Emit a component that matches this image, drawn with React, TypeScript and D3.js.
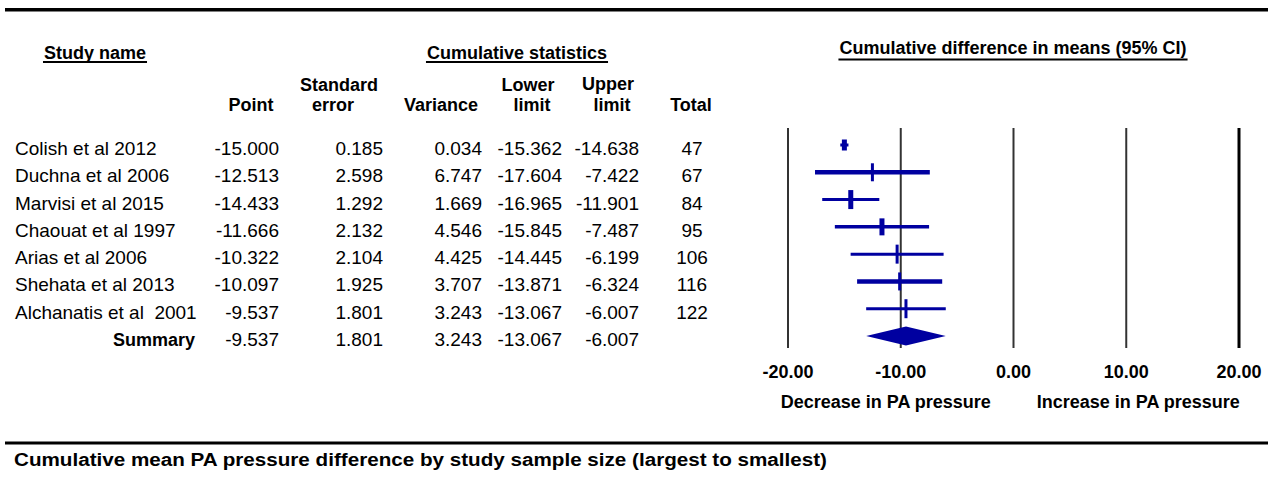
import React, { useEffect, useRef } from 'react';
import * as d3 from 'd3';

const studies = [
  'Colish et al 2012',
  'Duchna et al 2006',
  'Marvisi et al 2015',
  'Chaouat et al 1997',
  'Arias et al 2006',
  'Shehata et al 2013',
  'Alchanatis et al  2001',
];
const point = [-15.0, -12.513, -14.433, -11.666, -10.322, -10.097, -9.537];
const stdErr = [0.185, 2.598, 1.292, 2.132, 2.104, 1.925, 1.801];
const variance = [0.034, 6.747, 1.669, 4.546, 4.425, 3.707, 3.243];
const lower = [-15.362, -17.604, -16.965, -15.845, -14.445, -13.871, -13.067];
const upper = [-14.638, -7.422, -11.901, -7.487, -6.199, -6.324, -6.007];
const total = [47, 67, 84, 95, 106, 116, 122];

const summaryLabel = 'Summary';
const summaryPoint = -9.537;
const summarySE = 1.801;
const summaryVariance = 3.243;
const summaryLower = -13.067;
const summaryUpper = -6.007;

const axisTicks = [-20, -10, 0, 10, 20];

const caption = 'Cumulative mean PA pressure difference by study sample size (largest to smallest)';

// styles (per-row line weights of the forest marks)
const ciStroke = [3, 4.5, 3, 3.5, 3, 4.5, 3];
const tickStroke = [5, 3, 5, 5, 3, 3, 3];
const tickHalf = [5.5, 9, 9.5, 8.5, 9.5, 9, 9.5];

const FONT = "'Liberation Sans', Arial, Helvetica, sans-serif";
const BLUE = '#0000a0';

export default function App() {
  const ref = useRef<SVGSVGElement | null>(null);

  useEffect(() => {
    const svg = d3.select(ref.current);
    svg.selectAll('*').remove();

    const loc = d3.formatLocale({ decimal: '.', thousands: ',', grouping: [3], currency: ['', ''], minus: '-' });
    const f3 = loc.format('.3f');
    const f2 = loc.format('.2f');

    const x = d3.scaleLinear().domain([-20, 20]).range([788, 1239]);
    const rows = [...studies, summaryLabel];
    const y = d3.scalePoint<string>().domain(rows).range([145, 336]);

    // rules
    svg.append('rect').attr('x', 5).attr('y', 8).attr('width', 1263).attr('height', 3.5).attr('fill', '#000');
    svg.append('rect').attr('x', 5).attr('y', 441.5).attr('width', 1263).attr('height', 3).attr('fill', '#000');

    const text = (
      s: string,
      tx: number,
      ty: number,
      opts: { anchor?: string; weight?: string; size?: number } = {}
    ) =>
      svg
        .append('text')
        .attr('x', tx)
        .attr('y', ty)
        .attr('text-anchor', opts.anchor || 'start')
        .attr('font-family', FONT)
        .attr('font-size', opts.size || 19)
        .attr('font-weight', opts.weight || 'normal')
        .attr('fill', '#000')
        .style('white-space', 'pre')
        .text(s);

    const underlined = (s: string, cx: number, ty: number, uy: number) => {
      const t = text(s, cx, ty, { anchor: 'middle', weight: 'bold', size: 18 });
      const bb = (t.node() as SVGTextElement).getBBox();
      svg
        .append('rect')
        .attr('x', bb.x - 1)
        .attr('y', uy)
        .attr('width', bb.width + 2)
        .attr('height', 2)
        .attr('fill', '#000');
    };

    underlined('Study name', 95, 59, 61);
    underlined('Cumulative statistics', 517, 59, 61);
    underlined('Cumulative difference in means (95% CI)', 1013, 54, 58.5);

    // column headers
    const hdr = (s: string, cx: number, ty: number, size = 18) =>
      text(s, cx, ty, { anchor: 'middle', weight: 'bold', size });
    hdr('Point', 251, 111);
    hdr('Standard', 339, 91);
    hdr('error', 333, 111);
    hdr('Variance', 441, 111);
    hdr('Lower', 528, 91);
    hdr('limit', 532, 111);
    hdr('Upper', 608, 90);
    hdr('limit', 612, 111);
    hdr('Total', 691, 111);

    // table rows
    studies.forEach((s, i) => {
      const yy = (y(s) as number) + 10;
      text(s, 15, yy);
      text(f3(point[i]), 279, yy, { anchor: 'end' });
      text(f3(stdErr[i]), 383, yy, { anchor: 'end' });
      text(f3(variance[i]), 482, yy, { anchor: 'end' });
      text(f3(lower[i]), 562, yy, { anchor: 'end' });
      text(f3(upper[i]), 639, yy, { anchor: 'end' });
      text(String(total[i]), 692, yy, { anchor: 'middle' });
    });
    const sy = (y(summaryLabel) as number) + 10;
    text(summaryLabel, 195, sy, { anchor: 'end', weight: 'bold', size: 18 });
    text(f3(summaryPoint), 279, sy, { anchor: 'end' });
    text(f3(summarySE), 383, sy, { anchor: 'end' });
    text(f3(summaryVariance), 482, sy, { anchor: 'end' });
    text(f3(summaryLower), 562, sy, { anchor: 'end' });
    text(f3(summaryUpper), 639, sy, { anchor: 'end' });

    // grid / axis lines
    axisTicks.forEach((t, i) => {
      svg
        .append('line')
        .attr('x1', x(t))
        .attr('x2', x(t))
        .attr('y1', 128)
        .attr('y2', 348)
        .attr('stroke', i === axisTicks.length - 1 ? '#000' : '#333')
        .attr('stroke-width', i === axisTicks.length - 1 ? 3 : 2);
      text(f2(t), x(t), 378, { anchor: 'middle', weight: 'bold', size: 18 });
    });
    text('Decrease in PA pressure', x(-10) - 15, 408, { anchor: 'middle', weight: 'bold', size: 18 });
    text('Increase in PA pressure', x(10) + 12, 408, { anchor: 'middle', weight: 'bold', size: 18 });

    // forest marks
    studies.forEach((s, i) => {
      const yy = y(s) as number;
      svg
        .append('line')
        .attr('x1', x(lower[i]))
        .attr('x2', x(upper[i]))
        .attr('y1', yy)
        .attr('y2', yy)
        .attr('stroke', BLUE)
        .attr('stroke-width', ciStroke[i]);
      svg
        .append('line')
        .attr('x1', x(point[i]))
        .attr('x2', x(point[i]))
        .attr('y1', yy - tickHalf[i])
        .attr('y2', yy + tickHalf[i])
        .attr('stroke', BLUE)
        .attr('stroke-width', tickStroke[i]);
    });
    const dy = y(summaryLabel) as number;
    svg
      .append('polygon')
      .attr(
        'points',
        [
          [x(summaryLower), dy],
          [x(summaryPoint), dy - 9.5],
          [x(summaryUpper), dy],
          [x(summaryPoint), dy + 9.5],
        ]
          .map((p) => p.join(','))
          .join(' ')
      )
      .attr('fill', BLUE);

    // caption
    text(caption, 14, 466, { weight: 'bold', size: 18 })
      .attr('textLength', 813)
      .attr('lengthAdjust', 'spacingAndGlyphs');
  }, []);

  return (
    <svg
      ref={ref}
      width={1268}
      height={477}
      style={{ position: 'absolute', left: 0, top: 0, background: '#fff' }}
    />
  );
}
